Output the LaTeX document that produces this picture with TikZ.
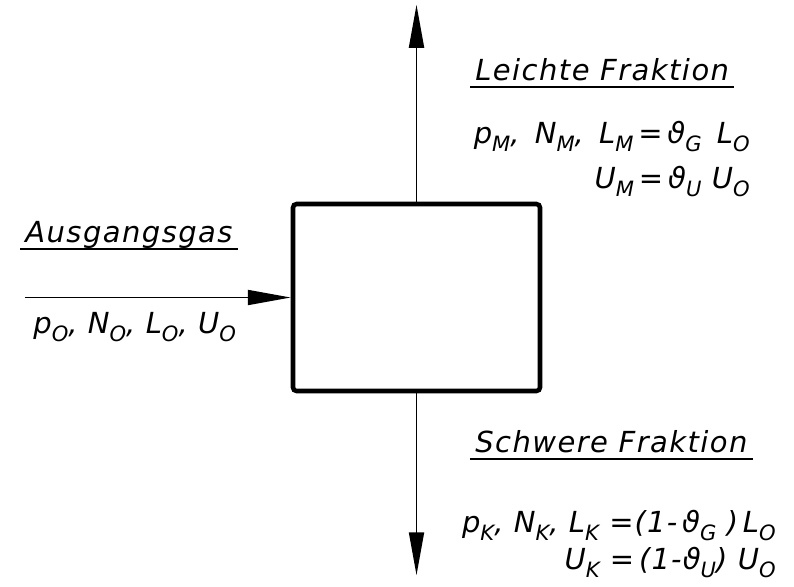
\documentclass[tikz,border=0pt]{standalone}
\usepackage{fontspec}
\setmainfont{DejaVu Sans}
\usetikzlibrary{positioning, arrows.meta}
\newcommand{\ix}[1]{\raisebox{-0.55ex}{\fontsize{12}{12}\selectfont #1}}

\begin{document}
\begin{tikzpicture}[x=0.02cm, y=-0.02cm,
    flow/.style={line width=1.1pt, -{Triangle[length=0.86cm, width=0.3cm]}},
    sepbox/.style={draw, line width=2.6pt, rounded corners=2pt,
                   minimum width=4.94cm, minimum height=3.74cm},
    head/.style={font=\fontsize{16.5}{19}\selectfont\itshape\addfontfeature{LetterSpace=5},
                 inner xsep=0.1cm, inner ysep=0.12cm, text depth=0pt},
    formula/.style={font=\fontsize{16.5}{19}\selectfont\itshape\addfontfeature{LetterSpace=4},
                    inner sep=0pt},
    rule/.style={line width=0.7pt}]
  \useasboundingbox (0,0) rectangle (794,586);

  % separator and streams
  \node[sepbox] (sep) at (416.5,297.5) {};
  \coordinate (light) at ([yshift=3.94cm]sep.north);
  \coordinate (heavy) at ([yshift=-3.64cm]sep.south);
  \coordinate (feed) at ([xshift=-5.32cm]sep.west);
  \draw[flow] (sep.north) -- (light);
  \draw[flow] (sep.south) -- (heavy);
  \draw[flow] (feed) -- (sep.west);

  % light fraction
  \node[head, anchor=south west] (lf) at (470,87) {Leichte Fraktion};
  \draw[rule] (lf.south west) -- (lf.south east);
  \node[formula, anchor=base east] (lfa) at (750,143)
    {p\ix{M}, \,N\ix{M}, \,L\ix{M}\,=\,ϑ\ix{G} \,L\ix{O}};
  \node[formula, anchor=base east] (lfb) at (750,188)
    {U\ix{M}\,=\,ϑ\ix{U} U\ix{O}};

  % feed gas
  \node[head, anchor=south west] (ag) at (20,249) {Ausgangsgas};
  \draw[rule] (ag.south west) -- (ag.south east);
  \node[formula, anchor=base west] (aga) at (33,333)
    {p\ix{O}, N\ix{O}, L\ix{O}, U\ix{O}};

  % heavy fraction
  \node[head, anchor=south west] (sf) at (470,459) {Schwere Fraktion};
  \draw[rule] (sf.south west) -- (sf.south east);
  \node[formula, anchor=base east] (sfa) at (776,532)
    {p\ix{K}, N\ix{K}, L\ix{K} =(1-\,ϑ\ix{G} )\,L\ix{O}};
  \node[formula, anchor=base east] (sfb) at (776,569)
    {U\ix{K} =\,(1-ϑ\ix{U}) U\ix{O}};
\end{tikzpicture}
\end{document}
